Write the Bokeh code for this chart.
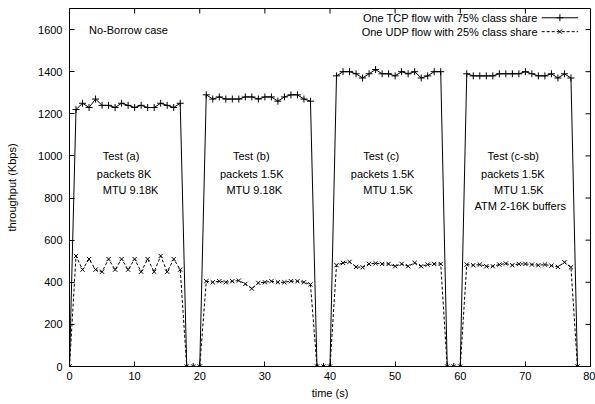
from bokeh.plotting import figure
from bokeh.models import Range1d, Label, FixedTicker
from bokeh.embed import file_html
from bokeh.resources import INLINE

# ---- data ----
time_s = list(range(0, 79))
tcp_kbps = [0,
            1220, 1250, 1230, 1270, 1240, 1240, 1230, 1250, 1240, 1230, 1240, 1230, 1230, 1250, 1240, 1230, 1250,
            0, 0, 0,
            1290, 1270, 1280, 1270, 1270, 1270, 1280, 1280, 1270, 1280, 1280, 1260, 1280, 1290, 1290, 1270, 1260,
            0, 0, 0,
            1380, 1400, 1400, 1390, 1370, 1390, 1410, 1390, 1390, 1380, 1400, 1390, 1400, 1370, 1380, 1400, 1400,
            0, 0, 0,
            1390, 1380, 1380, 1380, 1380, 1390, 1390, 1390, 1390, 1400, 1390, 1380, 1380, 1390, 1370, 1390, 1370,
            0]
udp_kbps = [0,
            525, 460, 510, 460, 450, 510, 460, 510, 460, 510, 450, 510, 450, 525, 450, 510, 460,
            0, 0, 0,
            405, 400, 405, 400, 405, 408, 392, 370, 397, 400, 405, 400, 400, 405, 405, 400, 390,
            0, 0, 0,
            481, 492, 497, 473, 471, 487, 490, 487, 487, 476, 487, 476, 492, 476, 484, 487, 487,
            0, 0, 0,
            484, 481, 484, 476, 476, 484, 489, 481, 487, 487, 484, 481, 484, 479, 473, 495, 471,
            0]
x_ticks = [0, 10, 20, 30, 40, 50, 60, 70, 80]
y_ticks = [0, 200, 400, 600, 800, 1000, 1200, 1400, 1600]
x_title = "time (s)"
y_title = "throughput (Kbps)"
series_names = ["One TCP flow with 75% class share", "One UDP flow with 25% class share"]
case_title = "No-Borrow case"
test_labels = [
    ["Test (a)", "packets 8K", "MTU 9.18K"],
    ["Test (b)", "packets 1.5K", "MTU 9.18K"],
    ["Test (c)", "packets 1.5K", "MTU 1.5K"],
    ["Test (c-sb)", "packets 1.5K", "MTU 1.5K", "ATM 2-16K buffers"],
]

FONT = "Liberation Sans"
FS = "11px"
X_MAX, Y_MAX = 80, 1700

p = figure(width=595, height=404, output_backend="svg", toolbar_location=None,
           x_range=Range1d(0, X_MAX), y_range=Range1d(0, Y_MAX),
           min_border_left=69, min_border_right=5, min_border_top=8, min_border_bottom=38)
p.background_fill_color = "white"
p.border_fill_color = "white"
p.outline_line_color = "black"
p.outline_line_width = 1
p.grid.visible = False

p.xaxis.ticker = FixedTicker(ticks=x_ticks)
p.yaxis.ticker = FixedTicker(ticks=y_ticks)
for ax in (p.xaxis[0], p.yaxis[0]):
    ax.major_tick_in = 5
    ax.major_tick_out = 0
    ax.minor_tick_line_color = None
    ax.axis_line_color = "black"
    ax.major_tick_line_color = "black"
    ax.major_label_text_font = FONT
    ax.major_label_text_font_size = FS
    ax.major_label_text_color = "black"
    ax.axis_label_text_font = FONT
    ax.axis_label_text_font_size = FS
    ax.axis_label_text_font_style = "normal"
    ax.axis_label_text_color = "black"
p.xaxis.axis_label = x_title
p.yaxis.axis_label = y_title
p.xaxis.major_label_standoff = 5
p.xaxis.axis_label_standoff = 4
p.yaxis.major_label_standoff = 7
p.yaxis.axis_label_standoff = 17

# mirrored inward ticks on top and right borders (gnuplot style)
tick_dy = Y_MAX * 5 / 358.0
tick_dx = X_MAX * 5 / 521.0
p.segment(x0=x_ticks, y0=[Y_MAX] * len(x_ticks), x1=x_ticks, y1=[Y_MAX - tick_dy] * len(x_ticks),
          line_color="black", line_width=1)
p.segment(x0=[X_MAX] * len(y_ticks), y0=y_ticks, x1=[X_MAX - tick_dx] * len(y_ticks), y1=y_ticks,
          line_color="black", line_width=1)

# series
p.line(time_s, tcp_kbps, line_color="black", line_width=1)
p.scatter(time_s, tcp_kbps, marker="cross", size=7, line_color="black", line_width=1)
p.line(time_s, udp_kbps, line_color="black", line_width=1, line_dash="3 2")
p.scatter(time_s, udp_kbps, marker="x", size=6, line_color="black", line_width=1)

# legend (gnuplot-style: text then sample)
leg_y = [1656, 1590]
for name, yv in zip(series_names, leg_y):
    p.add_layout(Label(x=71.9, y=yv, text=name, text_align="right", text_baseline="middle",
                       text_font=FONT, text_font_size=FS, text_color="black"))
p.line([72.5, 78.1], [leg_y[0], leg_y[0]], line_color="black", line_width=1)
p.scatter([75.3], [leg_y[0]], marker="cross", size=7, line_color="black")
p.line([72.5, 78.1], [leg_y[1], leg_y[1]], line_color="black", line_width=1, line_dash="3 2")
p.scatter([75.3], [leg_y[1]], marker="x", size=6, line_color="black")

# case title
p.add_layout(Label(x=3.0, y=1600, text=case_title, text_baseline="middle",
                   text_font=FONT, text_font_size=FS, text_color="black"))

# test annotations (left x of each line, and row values)
test_x = [[5.1, 4.2, 5.1], [25.1, 23.1, 24.1], [45.1, 43.2, 45.1], [64.2, 63.2, 65.2, 62.2]]
row_y = [1000, 915, 840, 760]
for labels, xs in zip(test_labels, test_x):
    for txt, xv, yv in zip(labels, xs, row_y):
        p.add_layout(Label(x=xv, y=yv, text=txt, text_baseline="middle",
                           text_font=FONT, text_font_size=FS, text_color="black"))

open("out.html", "w").write(file_html(p, INLINE))
